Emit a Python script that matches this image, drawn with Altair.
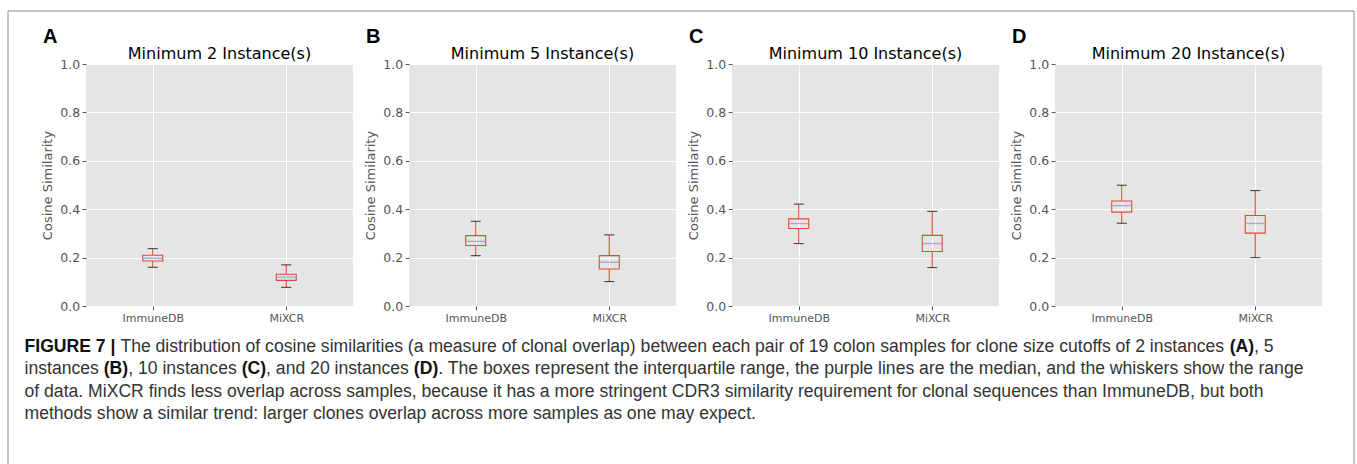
import altair as alt
import pandas as pd

methods = ["ImmuneDB", "MiXCR"]
panel_titles = ["Minimum 2 Instance(s)", "Minimum 5 Instance(s)",
                "Minimum 10 Instance(s)", "Minimum 20 Instance(s)"]
panel_letters = ["A", "B", "C", "D"]

# whisker low, Q1, median, Q3, whisker high (one value per panel)
immunedb_lo = [0.160, 0.208, 0.258, 0.342]
immunedb_q1 = [0.186, 0.250, 0.320, 0.388]
immunedb_med = [0.197, 0.267, 0.341, 0.415]
immunedb_q3 = [0.210, 0.291, 0.360, 0.434]
immunedb_hi = [0.237, 0.350, 0.421, 0.499]

mixcr_lo = [0.077, 0.101, 0.159, 0.200]
mixcr_q1 = [0.106, 0.153, 0.225, 0.301]
mixcr_med = [0.119, 0.181, 0.258, 0.341]
mixcr_q3 = [0.131, 0.208, 0.292, 0.374]
mixcr_hi = [0.170, 0.294, 0.391, 0.477]

y_ticks = [0.0, 0.2, 0.4, 0.6, 0.8, 1.0]
y_title = "Cosine Similarity"

caption_lines = [
    [("FIGURE 7 | ", True),
     ("The distribution of cosine similarities (a measure of clonal overlap) between each pair of 19 colon samples for clone size cutoffs of 2 instances ", False),
     ("(A)", True), (", 5", False)],
    [("instances ", False), ("(B)", True), (", 10 instances ", False), ("(C)", True),
     (", and 20 instances ", False), ("(D)", True),
     (". The boxes represent the interquartile range, the purple lines are the median, and the whiskers show the range", False)],
    [("of data. MiXCR finds less overlap across samples, because it has a more stringent CDR3 similarity requirement for clonal sequences than ImmuneDB, but both", False)],
    [("methods show a similar trend: larger clones overlap across more samples as one may expect.", False)],
]

# ---------------------------------------------------------------- styling
W, H = 267, 242
SPACING = 56
RED = "#E24A33"
PURPLE = "#988ED5"
GRAY = "#555555"
BG = "#E5E5E5"
CAP_FONT = "Liberation Sans"
CAP_SIZE = 17.6

REG = dict(zip("abcdefghijklmnopqrstuvwxyz",
               [556, 556, 500, 556, 556, 278, 556, 556, 222, 222, 500, 222, 833,
                556, 556, 556, 556, 333, 500, 278, 556, 500, 722, 500, 500, 500]))
REG.update(dict(zip("ABCDEFGHIJKLMNOPQRSTUVWXYZ",
                    [667, 667, 722, 722, 667, 611, 778, 722, 278, 500, 667, 556, 833,
                     722, 778, 667, 778, 722, 667, 611, 722, 667, 944, 667, 667, 611])))
REG.update({" ": 278, "(": 333, ")": 333, ",": 278, ".": 278, ":": 278, "|": 260, "-": 333})
REG.update({d: 556 for d in "0123456789"})
BOLD = dict(REG)
BOLD.update({"A": 722, "B": 722, "C": 722, "D": 722, "(": 333, ")": 333, "|": 280,
             "F": 611, "G": 778, "I": 278, "U": 722, "R": 722, "E": 667, " ": 278})


def text_width(s, bold):
    table = BOLD if bold else REG
    return sum(table.get(c, 556) for c in s) / 1000.0 * CAP_SIZE


one = pd.DataFrame({"k": [0]})


def panel(i):
    df = pd.DataFrame({
        "method": methods,
        "lo": [immunedb_lo[i], mixcr_lo[i]],
        "q1": [immunedb_q1[i], mixcr_q1[i]],
        "med": [immunedb_med[i], mixcr_med[i]],
        "q3": [immunedb_q3[i], mixcr_q3[i]],
        "hi": [immunedb_hi[i], mixcr_hi[i]],
    })
    base = alt.Chart(df)
    x = alt.X("method:N",
              scale=alt.Scale(type="point", domain=methods, padding=0.5),
              axis=alt.Axis(title="", labelAngle=0, grid=True, gridColor="white",
                            gridWidth=1, domain=False, tickColor=GRAY, tickSize=3.8,
                            labelColor=GRAY, labelFont="DejaVu Sans", labelFontSize=11,
                            labelPadding=3))
    ysc = alt.Scale(domain=[0, 1], nice=False, zero=True)
    yax = alt.Axis(values=y_ticks, format=".1f", title=y_title, grid=True,
                   gridColor="white", gridWidth=1, domain=False, tickColor=GRAY,
                   tickSize=3.8, labelColor=GRAY, labelFont="DejaVu Sans",
                   labelFontSize=12.5, labelPadding=2.5, titleFont="DejaVu Sans",
                   titleFontSize=13, titleFontWeight="normal", titleColor=GRAY,
                   titleAngle=270, titleX=-38.5, titleY=H / 2, titleAlign="center",
                   titleBaseline="middle")

    w1 = base.mark_rule(color=RED, strokeWidth=1.1).encode(
        x=x, y=alt.Y("lo:Q", scale=ysc, axis=yax), y2="q1:Q")
    w2 = base.mark_rule(color=RED, strokeWidth=1.1).encode(
        x=x, y=alt.Y("q3:Q", scale=ysc, axis=yax), y2="hi:Q")
    box = base.mark_bar(size=20, fillOpacity=0, stroke=RED, strokeWidth=1.1).encode(
        x=x, y=alt.Y("q1:Q", scale=ysc, axis=yax), y2="q3:Q")
    cap_lo = base.mark_tick(color="black", size=10, thickness=1.1, orient="horizontal").encode(
        x=x, y=alt.Y("lo:Q", scale=ysc, axis=yax))
    cap_hi = base.mark_tick(color="black", size=10, thickness=1.1, orient="horizontal").encode(
        x=x, y=alt.Y("hi:Q", scale=ysc, axis=yax))
    med = base.mark_tick(color=PURPLE, size=20, thickness=1.4, orient="horizontal").encode(
        x=x, y=alt.Y("med:Q", scale=ysc, axis=yax))

    title = alt.Chart(one).mark_text(
        text=panel_titles[i], font="DejaVu Sans", fontSize=16, align="center",
        baseline="alphabetic", color="black").encode(
        x=alt.value(W / 2), y=alt.value(-5.5))
    letter = alt.Chart(one).mark_text(
        text=panel_letters[i], font="Liberation Sans", fontSize=20, fontWeight="bold",
        align="left", baseline="alphabetic", color="black").encode(
        x=alt.value(-43), y=alt.value(-21))

    layers = [w1, w2, box, cap_lo, cap_hi, med, title, letter]

    if i == 0:
        frame_c = "#8a8a8a"
        layers.append(alt.Chart(one).mark_rule(color=frame_c, strokeWidth=1).encode(
            x=alt.value(-78), x2=alt.value(1268), y=alt.value(-53)))
        layers.append(alt.Chart(one).mark_rule(color=frame_c, strokeWidth=1).encode(
            x=alt.value(-78), y=alt.value(-53), y2=alt.value(400)))
        layers.append(alt.Chart(one).mark_rule(color=frame_c, strokeWidth=1).encode(
            x=alt.value(1268), y=alt.value(-53), y2=alt.value(400)))
        x0 = 24 - 85.5
        line_y = [282.5, 305, 327.5, 350]
        for li, segs in enumerate(caption_lines):
            xc = x0
            for txt, bold in segs:
                layers.append(alt.Chart(one).mark_text(
                    text=txt, font=CAP_FONT, fontSize=CAP_SIZE,
                    fontWeight="bold" if bold else "normal",
                    color="#111111" if bold else "#333333",
                    align="left", baseline="middle").encode(
                    x=alt.value(xc), y=alt.value(line_y[li])))
                xc += text_width(txt, bold)

    return alt.layer(*layers).properties(
        width=W, height=H, view=alt.ViewBackground(fill=BG, strokeWidth=0))


chart = alt.hconcat(*[panel(i) for i in range(4)], spacing=SPACING, bounds="flush").properties(
    padding={"left": 7, "top": 10, "right": 0, "bottom": 0}
).configure(background="white", view=alt.ViewConfig(fill=BG, strokeWidth=0))

chart.save("out.html", embed_options={"renderer": "svg", "actions": False})
